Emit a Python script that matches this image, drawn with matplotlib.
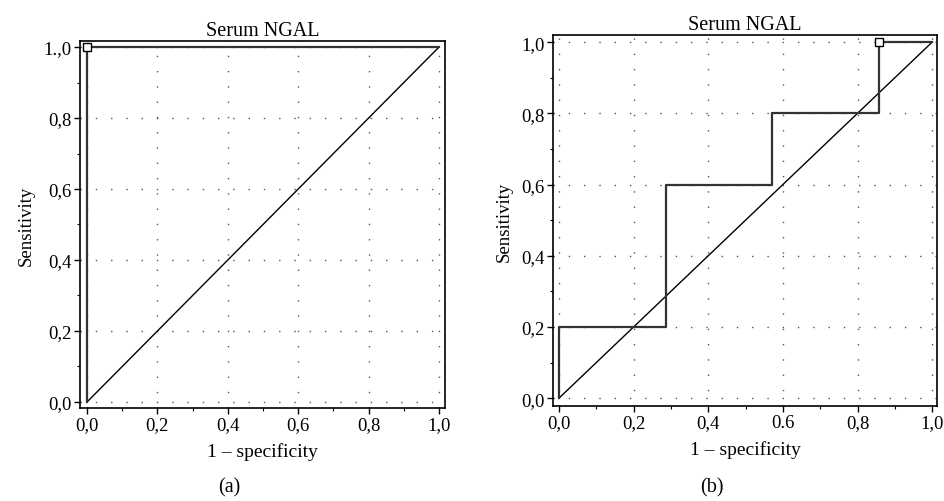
import matplotlib
matplotlib.use("Agg")
import matplotlib.pyplot as plt
from matplotlib.ticker import MultipleLocator, FixedLocator, FixedFormatter

plt.rcParams['font.family'] = ['Liberation Serif', 'DejaVu Serif']

# Data
title = "Serum NGAL"
roc_a_x = [0.0, 0.0, 1.0]
roc_a_y = [0.0, 1.0, 1.0]
cut_a = (0.0, 1.0)
roc_b_x = [0.0, 0.0, 0.286, 0.286, 0.571, 0.571, 0.857, 0.857, 1.0]
roc_b_y = [0.0, 0.2, 0.2, 0.6, 0.6, 0.8, 0.8, 1.0, 1.0]
cut_b = (0.857, 1.0)
diag = [0.0, 1.0]
tick_vals = [0.0, 0.2, 0.4, 0.6, 0.8, 1.0]
a_xticklabels = ["0,0", "0,2", "0,4", "0,6", "0,8", "1,0"]
a_yticklabels = ["0,0", "0,2", "0,4", "0,6", "0,8", "1.,0"]
b_xticklabels = ["0,0", "0,2", "0,4", "0.6", "0,8", "1,0"]
b_yticklabels = ["0,0", "0,2", "0,4", "0,6", "0,8", "1,0"]

fig = plt.figure(figsize=(9.45, 5.02), dpi=100)
ax1 = fig.add_axes([80/945, (502-409)/502, 365/945, 367/502])
ax2 = fig.add_axes([553/945, (502-407)/502, 384/945, 371/502])


def style(ax, rx, ry, cut, xt, yt, xlim, ylim, cap, capx, title_pad):
    ax.plot(diag, diag, color='black', lw=1.0, zorder=3)
    ax.plot(rx, ry, color='#333333', lw=1.6, zorder=4)
    ax.plot([cut[0]], [cut[1]], marker='s', ms=5.5, mfc='white', mec='black', mew=1.0, zorder=5)
    ax.set_xlim(*xlim)
    ax.set_ylim(*ylim)
    ax.xaxis.set_major_locator(FixedLocator(tick_vals))
    ax.yaxis.set_major_locator(FixedLocator(tick_vals))
    ax.xaxis.set_major_formatter(FixedFormatter(xt))
    ax.yaxis.set_major_formatter(FixedFormatter(yt))
    ax.xaxis.set_minor_locator(MultipleLocator(0.1))
    ax.yaxis.set_minor_locator(MultipleLocator(0.1))
    ax.tick_params(which='major', direction='out', length=4, width=1, labelsize=13.5, pad=2)
    ax.tick_params(which='minor', direction='out', length=2.5, width=0.8)
    ax.grid(True, which='major', color='#555555', linestyle=(0, (1, 10)), linewidth=1.0)
    for s in ax.spines.values():
        s.set_linewidth(1.2)
    ax.set_title(title, fontsize=14.5, pad=title_pad)
    ax.set_xlabel("1 \u2013 specificity", fontsize=14, labelpad=6)
    ax.set_ylabel("Sensitivity", fontsize=13.5, labelpad=6)
    fig.text(capx, 5/502, cap, ha='center', va='bottom', fontsize=14.5)

style(ax1, roc_a_x, roc_a_y, cut_a, a_xticklabels, a_yticklabels,
      (-0.02, 1.017), (-0.017, 1.017), "(a)", 229/945, 4)
style(ax2, roc_b_x, roc_b_y, cut_b, b_xticklabels, b_yticklabels,
      (-0.016, 1.013), (-0.022, 1.02), "(b)", 712/945, 4)

fig.savefig("out.png", dpi=100)
